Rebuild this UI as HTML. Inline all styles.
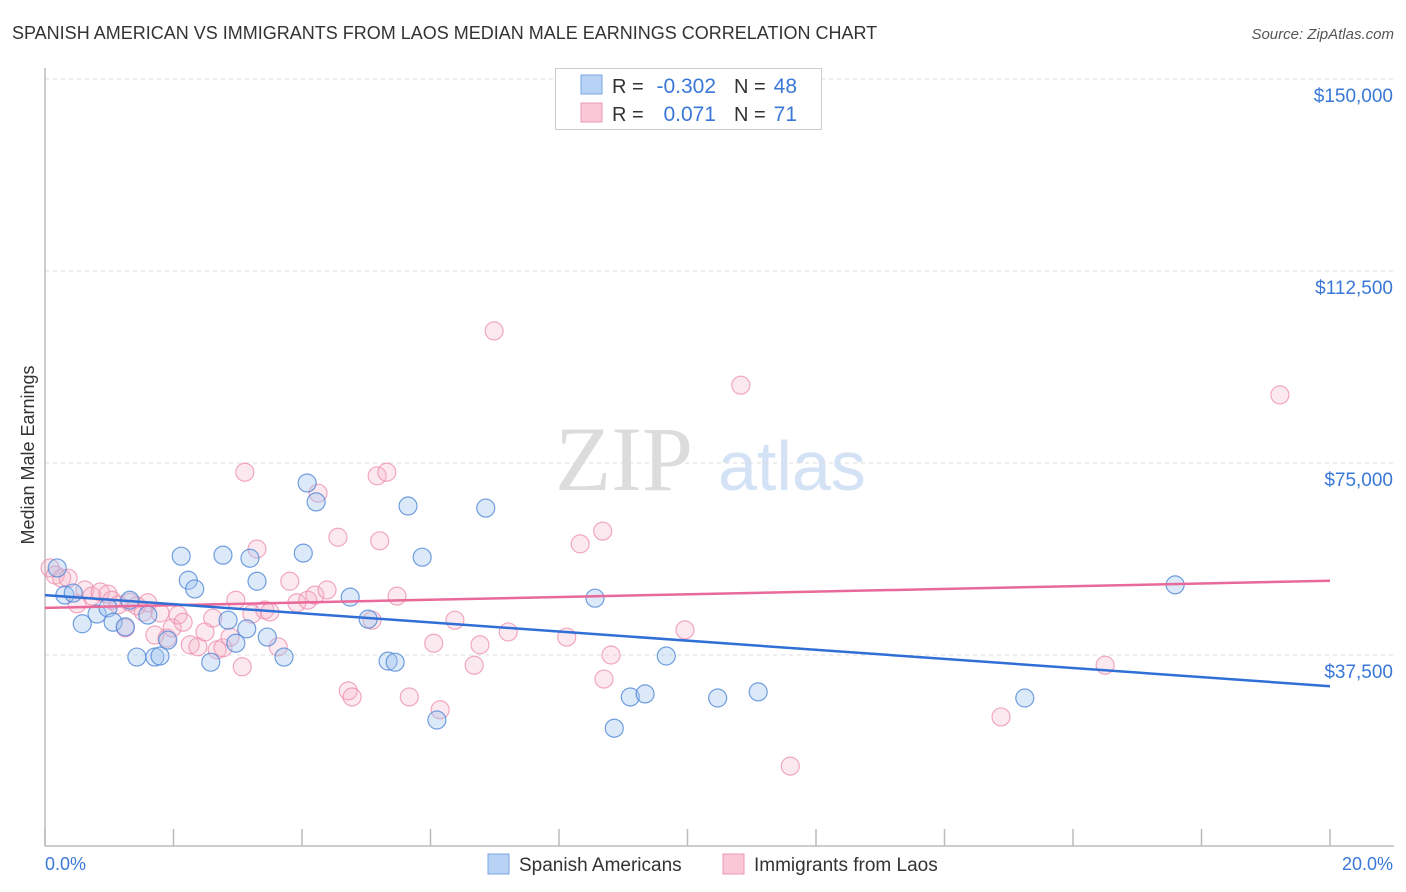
<!DOCTYPE html>
<html><head><meta charset="utf-8"><style>
body{margin:0;background:#fff;font-family:"Liberation Sans",sans-serif;}
#wrap{position:relative;width:1406px;height:892px;overflow:hidden;}
</style></head><body>
<div id="wrap">
<svg id="chart" width="1406" height="892" style="position:absolute;left:0;top:0"></svg>
</div>
<script>
const blueX=[0.19,0.31,0.44,0.58,0.81,0.98,1.06,1.25,1.32,1.43,1.60,1.71,1.79,1.91,2.12,2.23,2.33,2.58,2.77,2.85,2.97,3.14,3.19,3.30,3.46,3.72,4.02,4.08,4.22,4.75,5.03,5.34,5.45,5.65,5.87,6.10,6.86,8.56,8.86,9.11,9.34,9.67,10.47,11.10,15.25,17.59];
const blueY=[54.5,49.2,49.6,43.6,45.5,46.7,43.9,43.0,48.2,37.1,45.3,37.1,37.3,40.4,56.8,52.1,50.4,36.1,57.0,44.3,39.8,42.6,56.4,51.9,41.0,37.1,57.4,71.1,67.4,48.8,44.5,36.3,36.1,66.6,56.6,24.8,66.2,48.6,23.2,29.3,29.9,37.3,29.1,30.3,29.1,51.2];
const pinkX=[0.08,0.16,0.26,0.36,0.50,0.62,0.73,0.86,0.98,1.04,1.14,1.25,1.32,1.43,1.53,1.60,1.71,1.79,1.90,1.98,2.07,2.15,2.26,2.38,2.49,2.61,2.68,2.77,2.88,2.97,3.07,3.11,3.22,3.30,3.42,3.50,3.63,3.81,3.92,4.09,4.20,4.25,4.39,4.56,4.72,4.78,5.09,5.17,5.21,5.32,5.48,5.67,6.05,6.15,6.38,6.68,6.77,6.99,7.21,8.12,8.33,8.70,8.68,8.81,9.96,10.83,11.60,14.88,16.50,19.22];
const pinkY=[54.5,53.1,52.5,52.5,47.5,50.2,49.0,49.8,49.4,48.2,47.3,42.8,47.8,47.1,45.9,47.7,41.4,45.7,40.8,42.8,45.3,43.9,39.5,39.1,42.0,44.7,38.5,38.9,41.0,48.2,35.2,73.2,45.5,58.2,46.3,45.9,39.1,51.9,47.7,48.2,49.2,69.1,50.2,60.5,30.5,29.3,44.3,72.5,59.8,73.2,49.0,29.3,39.8,26.8,44.3,35.5,39.5,100.8,42.0,41.0,59.2,32.8,61.7,37.5,42.4,90.2,15.8,25.4,35.5,88.3];
const blueTrend=[49.2,31.4];
const pinkTrend=[46.7,52.0];
const yTicks=[37.5,75,112.5,150];
const yTickLabels=["$37,500","$75,000","$112,500","$150,000"];
const xTicks=[0,2,4,6,8,10,12,14,16,18,20];

const svg=document.getElementById('chart');
const NS='http://www.w3.org/2000/svg';
const sx=v=>45+v/20*1285;
const sy=v=>847-v/37.5*192;
function mk(tag,attrs,parent){const e=document.createElementNS(NS,tag);for(const k in attrs)e.setAttribute(k,attrs[k]);(parent||svg).appendChild(e);return e;}

let t=mk('text',{x:12,y:39,'font-size':18,fill:'#333'});t.textContent='SPANISH AMERICAN VS IMMIGRANTS FROM LAOS MEDIAN MALE EARNINGS CORRELATION CHART';


t=mk('text',{x:1394,y:39,'font-size':15,fill:'#555','font-style':'italic','text-anchor':'end'});t.textContent='Source: ZipAtlas.com';



t=mk('text',{x:555,y:490,'font-size':92,fill:'#dcdcdc','font-family':'Liberation Serif, serif'});t.textContent='ZIP';


t=mk('text',{x:718,y:490,'font-size':70,fill:'#d3e2f5'});t.textContent='atlas';



mk('line',{x1:45,y1:79,x2:1394,y2:79,stroke:'#ddd','stroke-dasharray':'4,4'});
yTicks.forEach((v,i)=>{
  const g=mk('line',{x1:45,y1:sy(v),x2:1394,y2:sy(v),stroke:'#ddd','stroke-dasharray':'4,4'});
  
  
  const l=mk('text',{x:1393,y:sy(v)+23,'font-size':19,fill:'#3a78d8','text-anchor':'end'});
  l.textContent=yTickLabels[i];
  
  
});
let ax=mk('line',{x1:45,y1:68,x2:45,y2:846,stroke:'#bbb','stroke-width':1.5});


ax=mk('line',{x1:45,y1:846,x2:1394,y2:846,stroke:'#bbb','stroke-width':1.5});


xTicks.forEach(v=>{
  const k=mk('line',{x1:sx(v),y1:829,x2:sx(v),y2:846,stroke:'#bbb','stroke-width':1.5});
  
  
});
t=mk('text',{x:45,y:870,'font-size':18,fill:'#3a78d8'});t.textContent='0.0%';


t=mk('text',{x:1393,y:870,'font-size':18,fill:'#3a78d8','text-anchor':'end'});t.textContent='20.0%';


t=mk('text',{x:34,y:455,'font-size':18,fill:'#333','text-anchor':'middle',transform:'rotate(-90 34 455)'});t.textContent='Median Male Earnings';



pinkX.forEach((x,i)=>{
  const c=mk('circle',{cx:sx(x),cy:sy(pinkY[i]),r:9,fill:'rgba(246,175,198,0.28)',stroke:'rgba(236,140,172,0.75)','stroke-width':1.2});
  
  
});
blueX.forEach((x,i)=>{
  const c=mk('circle',{cx:sx(x),cy:sy(blueY[i]),r:9,fill:'rgba(160,196,240,0.38)',stroke:'rgba(80,135,215,0.8)','stroke-width':1.2});
  
  
});
let tl=mk('line',{x1:sx(0),y1:sy(pinkTrend[0]),x2:sx(20),y2:sy(pinkTrend[1]),stroke:'#e8699a','stroke-width':2.5});


tl=mk('line',{x1:sx(0),y1:sy(blueTrend[0]),x2:sx(20),y2:sy(blueTrend[1]),stroke:'#2f6fd6','stroke-width':2.5});



const lg=mk('g',{});


mk('rect',{x:555.5,y:68.5,width:266,height:61,fill:'#fff',stroke:'#ccc'},lg);
mk('rect',{x:581,y:75,width:21,height:19,fill:'#b7d2f4',stroke:'#7aa6e3'},lg);
mk('rect',{x:581,y:103,width:21,height:19,fill:'#f9c7d6',stroke:'#ec9ab5'},lg);
[[93,'-0.302','48'],[121,'0.071','71']].forEach(r=>{
  let a=mk('text',{x:612,y:r[0],'font-size':20,fill:'#333'},lg);a.textContent='R =';
  a=mk('text',{x:716,y:r[0],'font-size':21,fill:'#3a78d8','text-anchor':'end'},lg);a.textContent=r[1];
  a=mk('text',{x:734,y:r[0],'font-size':20,fill:'#333'},lg);a.textContent='N =';
  a=mk('text',{x:797,y:r[0],'font-size':21,fill:'#3a78d8','text-anchor':'end'},lg);a.textContent=r[2];
});
let b=mk('rect',{x:488,y:854,width:21,height:20,fill:'#b7d2f4',stroke:'#7aa6e3'});


t=mk('text',{x:519,y:871,'font-size':19,fill:'#333'});t.textContent='Spanish Americans';


b=mk('rect',{x:723,y:854,width:21,height:20,fill:'#f9c7d6',stroke:'#ec9ab5'});


t=mk('text',{x:754,y:871,'font-size':19,fill:'#333'});t.textContent='Immigrants from Laos';


</script>
</body></html>
